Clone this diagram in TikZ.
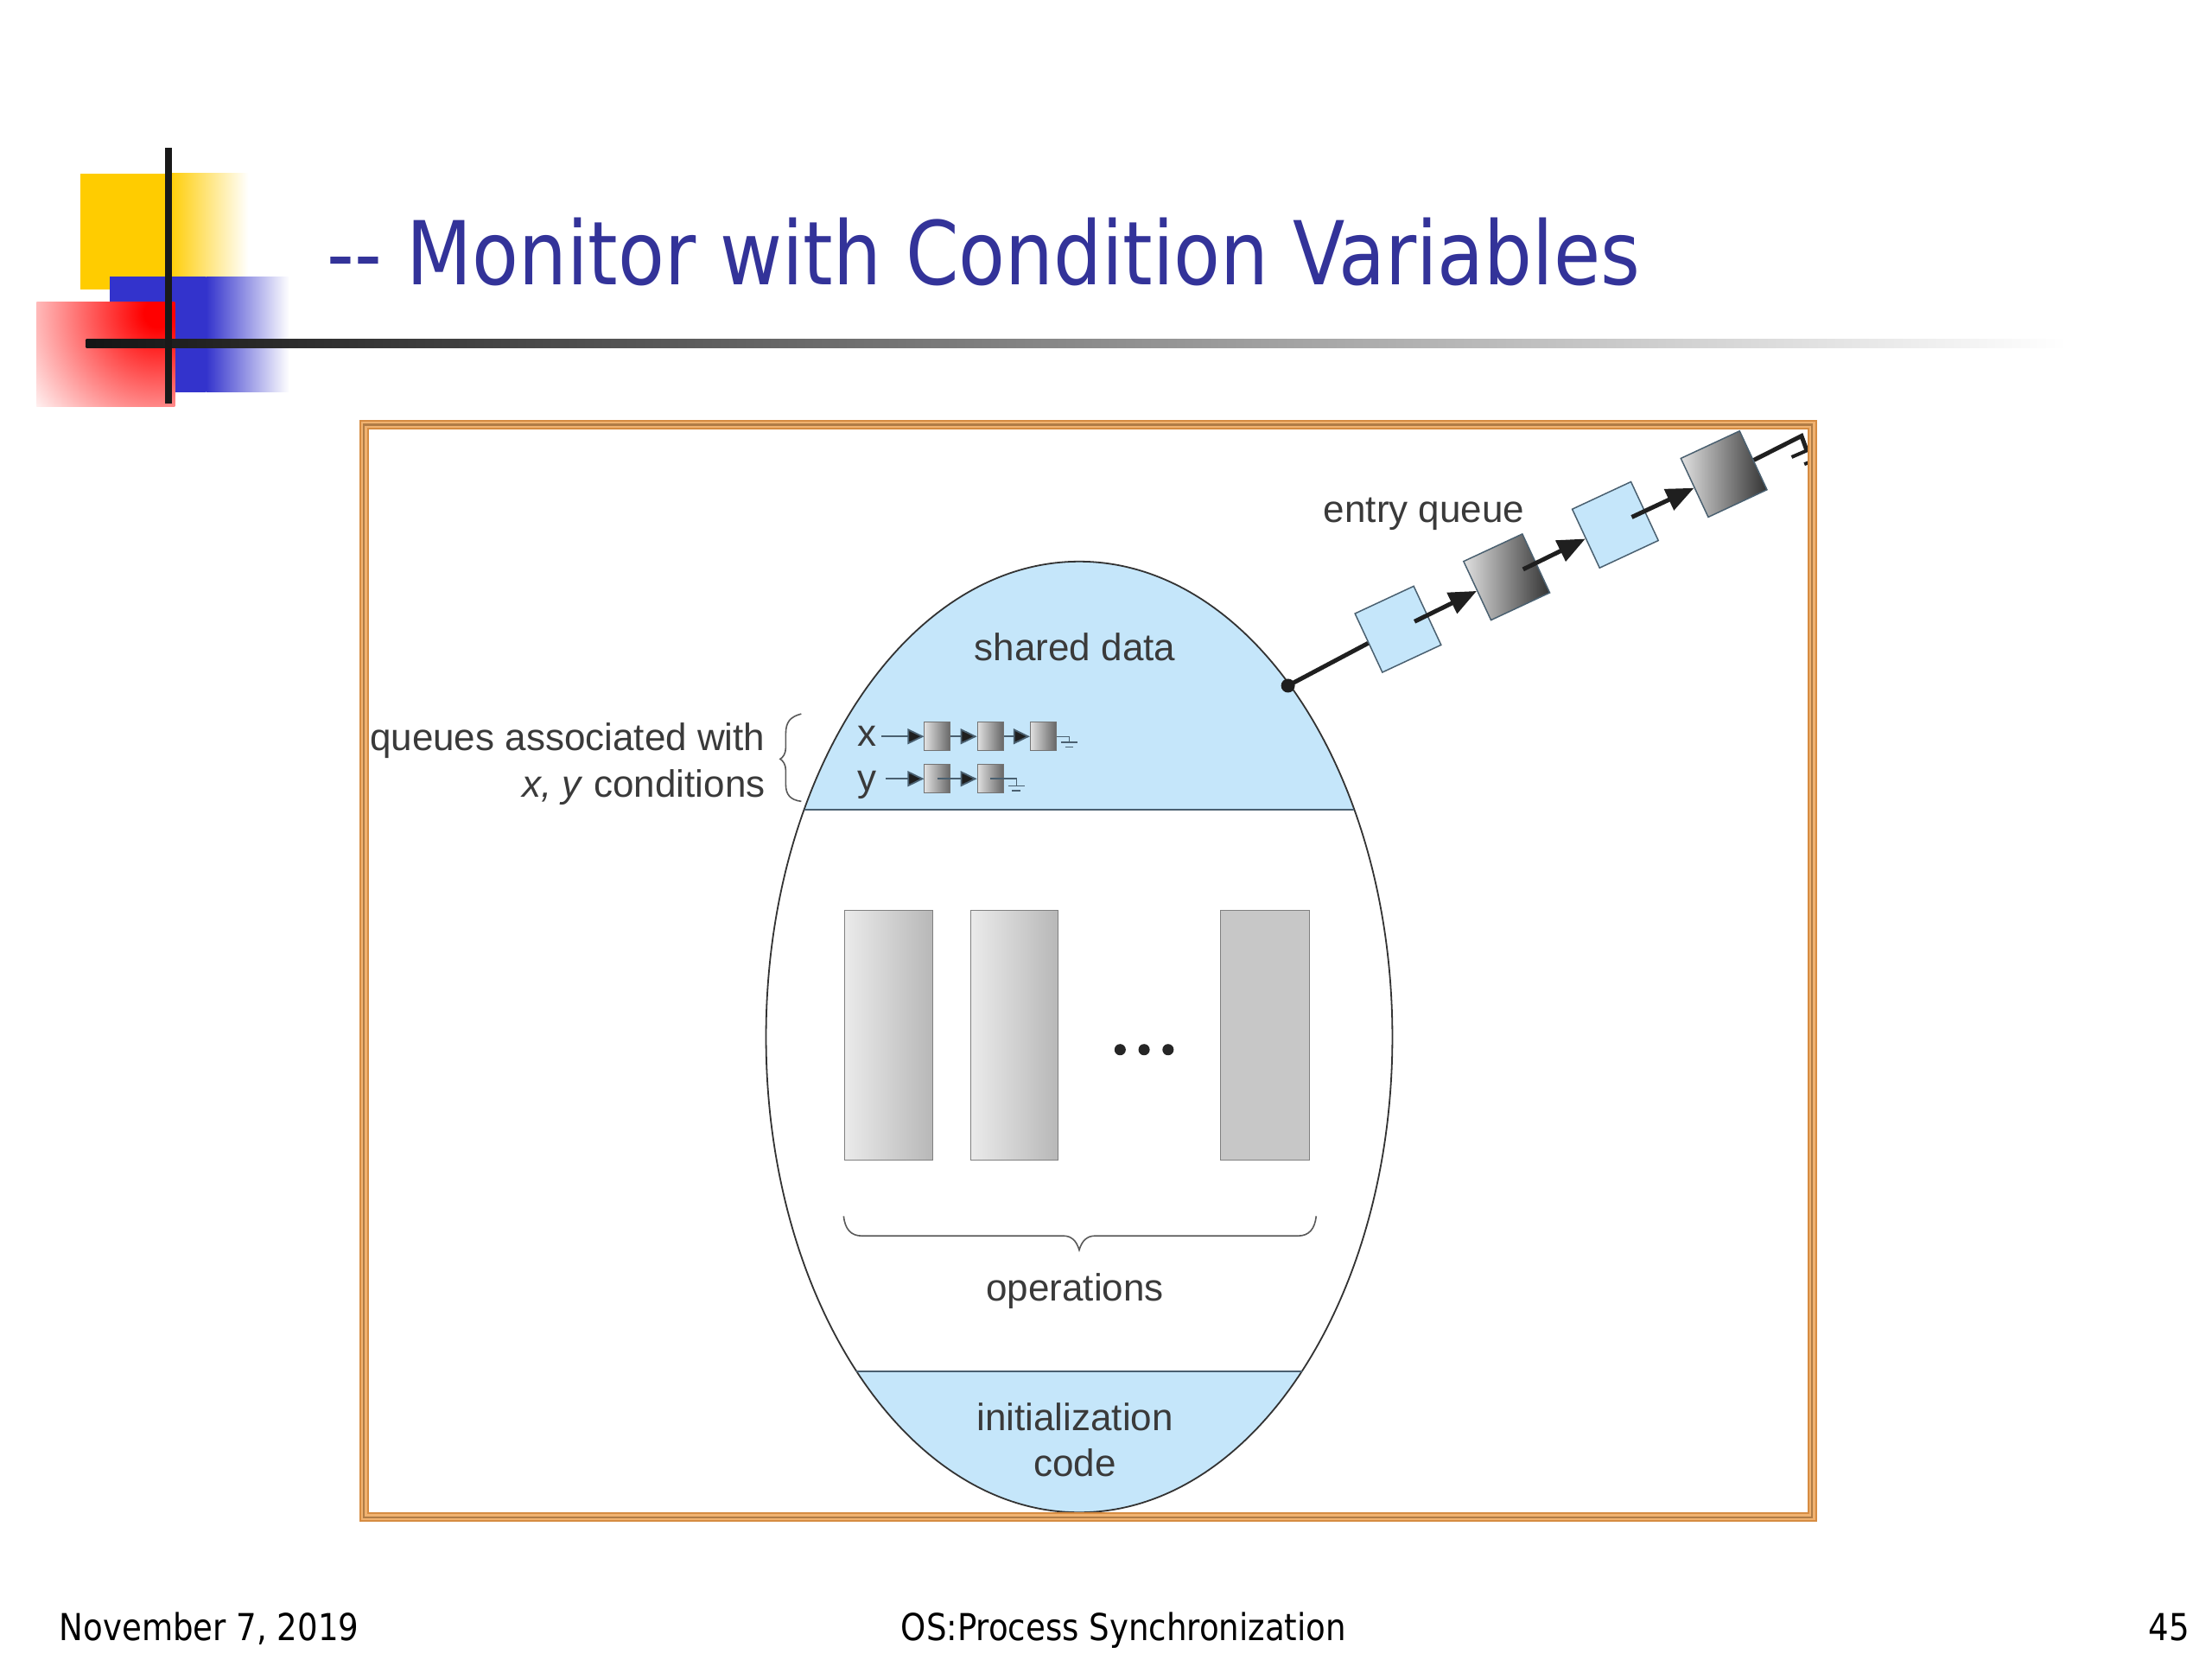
\documentclass[tikz,border=0pt]{standalone}
\usepackage{fontspec}
\usetikzlibrary{arrows.meta,calc}
\setmainfont{Liberation Sans}
\newfontfamily\slidefont[FakeStretch=0.96]{DejaVu Sans Condensed}
\pgfdeclareradialshading{redfade}{\pgfpoint{0bp}{0bp}}{color(0bp)=(red); color(2bp)=(red); color(23bp)=(white); color(50bp)=(white)}
\definecolor{cellblue}{HTML}{C5E6FA}
\definecolor{slidetitle}{HTML}{333399}
\definecolor{inktext}{HTML}{3A3A3A}
\definecolor{linkslate}{HTML}{4A6070}
\definecolor{decoyellow}{HTML}{FFCC00}
\definecolor{decoblue}{HTML}{3333CC}
\tikzset{
  lbl/.style={inner sep=0pt,text=inktext,font=\fontsize{44}{50}\selectfont,anchor=base},
  lblr/.style={lbl,anchor=base east},
  foot/.style={inner sep=0pt,text=black,font=\slidefont\fontsize{43}{50}\selectfont,anchor=base west},
  bigbox/.style={draw=linkslate,line width=1.5pt,minimum size=75pt,inner sep=0pt,rotate=25},
  bigblue/.style={bigbox,fill=cellblue},
  bigdark/.style={bigbox,left color=black!12,right color=black!80},
  smallbox/.style={draw=black!55,line width=1pt,minimum width=30pt,minimum height=33pt,inner sep=0pt,left color=black!12,right color=black!60},
  opbox/.style={draw=black!50,line width=1.2pt,minimum width=101.5pt,minimum height=289pt,inner sep=0pt},
  biglink/.style={line width=5pt,draw=black!88,-{Triangle[length=32pt,width=26pt,fill=black!88]}},
  smalllink/.style={line width=1.8pt,draw=linkslate,-{Triangle[length=19pt,width=18pt,fill=black!88]}},
  braceline/.style={line width=1.6pt,draw=black!65},
  oval/.style={line width=1.8pt,draw=black!80},
  divider/.style={line width=2.4pt,draw=linkslate}
}
\begin{document}
\begin{tikzpicture}[x=1.63265pt,y=-1.63265pt]
\useasboundingbox (0,0) rectangle (1568,1176);
\fill[white] (0,0) rectangle (1568,1176);

% slide decoration
\fill[decoyellow] (57,123) rectangle (119,205);
\shade[left color=decoyellow,right color=white] (119,123) rectangle (176,205);
\fill[decoblue] (78,196) rectangle (146,278);
\shade[left color=decoblue,right color=white] (146,196) rectangle (205,278);
\begin{scope}
  \clip (26,214) rectangle (124,288);
  \shade[shading=redfade] (112,222) circle (125);
\end{scope}
\shade[left color=black!92,middle color=black!36,right color=white] (61,240.5) rectangle (1465,246.5);
\fill[black!90] (116.8,105) rectangle (122,286);

% title
\node[inner sep=0pt,anchor=base west,text=slidetitle,font=\slidefont\fontsize{102}{110}\selectfont] (title) at (232,202) {-- Monitor with Condition Variables};

% monitor body
\begin{scope}
  \clip (765,735) ellipse [x radius=222,y radius=337];
  \fill[cellblue] (500,390) rectangle (1030,574);
  \fill[cellblue] (500,972) rectangle (1030,1080);
\end{scope}
\draw[oval] (765,735) ellipse [x radius=222,y radius=337];
\coordinate (divAl) at (570,574);
\coordinate (divAr) at (960,574);
\coordinate (divBl) at (607,972);
\coordinate (divBr) at (923,972);
\draw[divider] (divAl) -- (divAr);
\draw[divider] (divBl) -- (divBr);

% operations
\node[opbox,left color=black!8,right color=black!28] (op1) at (630,734) {};
\node[opbox,left color=black!8,right color=black!28] (op2) at (719,734) {};
\node[opbox,fill=black!22,minimum width=103pt] (op3) at (896.5,734) {};
\foreach \dx in {794,811,828}
  \fill[black!85] (\dx,744) circle (4);

% bottom brace
\draw[braceline] (598,862) .. controls (599,871) and (603,876) .. (611,876) -- (754,876) .. controls (759,876) and (763,879) .. (765,886) .. controls (767,879) and (771,876) .. (776,876) -- (920,876) .. controls (928,876) and (932,871) .. (933,862);

% left brace
\draw[braceline] (568,506) .. controls (560,508) and (557,512) .. (557,520) -- (557,530) .. controls (557,534) and (555,537) .. (553,538) .. controls (555,539) and (557,542) .. (557,546) -- (557,556) .. controls (557,563) and (560,567) .. (568,568);

% labels
\node[lbl] (shared) at (762,468.5) {shared data};
\node[lblr] (qa) at (542.5,532) {queues associated with};
\node[lblr] (qb) at (542.5,565) {\textit{x, y} conditions};
\node[lbl] (xl) at (614.5,529) {x};
\node[lbl] (yl) at (614.5,561) {y};
\node[lbl] (oper) at (762,922) {operations};
\node[lbl] (init) at (762,1014) {initialization};
\node[lbl] (code) at (762,1046.5) {code};
\node[lbl] (entry) at (1009.5,370) {entry queue};

% small queues
\node[smallbox] (x1) at (664.5,522) {};
\node[smallbox] (x2) at (702,522) {};
\node[smallbox] (x3) at (739.5,522) {};
\node[smallbox] (y1) at (664.5,552) {};
\node[smallbox] (y2) at (702,552) {};
\coordinate (xs) at (625,522);
\coordinate (ys) at (628,552);
\draw[smalllink] (xs) -- (x1.west);
\draw[smalllink] (x1.east) -- (x2.west);
\draw[smalllink] (x2.east) -- (x3.west);
\draw[smalllink] (ys) -- (y1.west);
\draw[smalllink] (y1.center) -- (y2.west);
\draw[line width=1.8pt,draw=linkslate] (y2.center) -- (y2.east);
\draw[line width=1.5pt,draw=linkslate] (x3.east) -- ++(9,0) -- ++(0,4) ++(-6,0) -- ++(12,0) ++(-9,3.5) -- ++(6,0);
\draw[line width=1.5pt,draw=linkslate] (y2.east) -- ++(9,0) -- ++(0,5) ++(-6,0) -- ++(12,0) ++(-9,3.5) -- ++(6,0);

% entry queue
\node[bigblue] (q1) at (991,446) {};
\node[bigdark] (q2) at (1068,409) {};
\node[bigblue] (q3) at (1145,372) {};
\node[bigdark] (q4) at (1222,336) {};
\node[circle,fill=black!88,inner sep=0pt,minimum size=16pt] (dot) at (913,486) {};
\draw[line width=5pt,draw=black!88] (dot.center) -- (q1.west);
\draw[biglink] ($(q1.center)!0.55!(q1.east)$) -- (q2.west);
\draw[biglink] ($(q2.center)!0.55!(q2.east)$) -- (q3.west);
\draw[biglink] ($(q3.center)!0.55!(q3.east)$) -- (q4.west);
\coordinate (gnd) at (1277,309);
\draw[line width=5pt,draw=black!88,line join=miter] (q4.east) -- (gnd) -- (1281,320);
\draw[line width=4pt,draw=black!88] (1270,324) -- (1285,317.5);
\draw[line width=4pt,draw=black!88] (1279,329) -- (1285,326.7);

% frame
\draw[line width=11pt,draw={rgb,255:red,214;green,140;blue,66},line join=miter] (258,301) rectangle (1284.5,1075.5);
\draw[line width=7pt,draw={rgb,255:red,240;green,178;blue,112},line join=miter] (258,301) rectangle (1284.5,1075.5);
\draw[line width=2.5pt,draw={rgb,255:red,176;green,124;blue,70},line join=miter] (258,301) rectangle (1284.5,1075.5);

% footer
\node[foot] (date) at (42,1163) {November 7, 2019};
\node[foot,anchor=base] (course) at (796.5,1163) {OS:Process Synchronization};
\node[foot,anchor=base east] (page) at (1552,1163) {45};
\end{tikzpicture}
\end{document}
